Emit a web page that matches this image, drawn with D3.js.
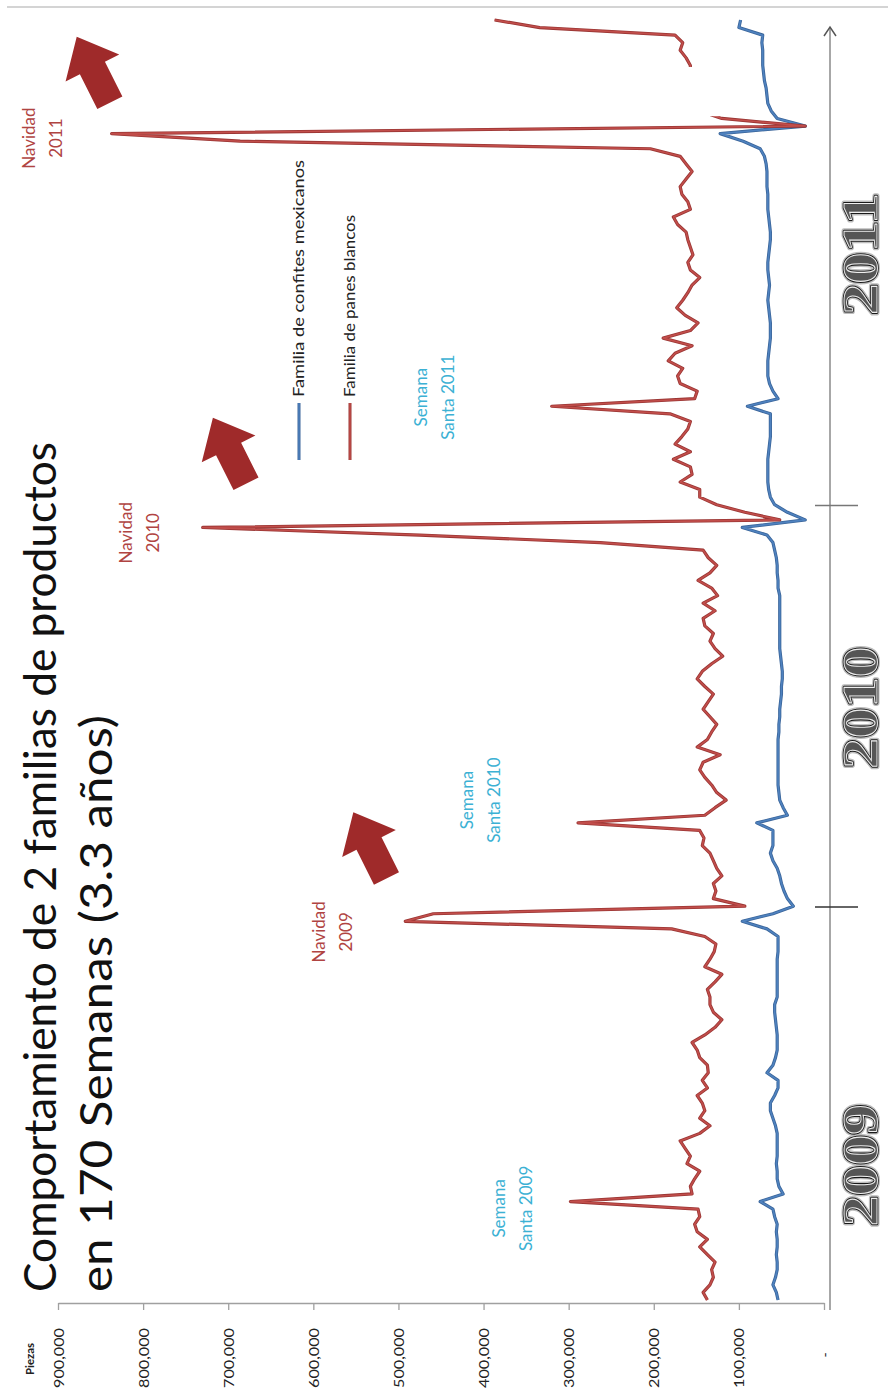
<!DOCTYPE html>
<html>
<head>
<meta charset="utf-8">
<script src="https://cdn.jsdelivr.net/npm/d3@7"></script>
<style>
  html, body { margin: 0; padding: 0; background: #fff; }
  svg { display: block; }
</style>
</head>
<body>
<svg id="chart" width="888" height="1397"></svg>
<script>
// Weekly sales, in thousands of pieces, week 1 (early 2009) to week 170 (late 2011)
const weeks = d3.range(1, 171);

const panesBlancos = [
  137,142,134,130,132,128,137,146,137,149,
  152,146,148,298,155,157,152,146,161,157,
  163,169,146,134,146,140,143,149,137,143,
  136,137,146,149,155,140,128,120,130,134,
  134,137,128,120,140,134,129,127,140,179,
  492,459,93,130,127,130,120,126,130,134,
  143,141,146,289,140,128,115,126,132,140,
  146,142,122,149,137,132,126,134,142,136,
  130,140,149,143,132,119,128,134,130,140,
  142,128,142,125,132,148,134,126,136,142,
  263,475,730,52,93,126,146,146,169,155,
  157,177,157,175,167,160,157,181,320,152,
  149,169,172,166,183,175,155,189,157,148,
  163,173,166,160,155,146,157,160,154,157,
  160,162,172,177,157,160,167,169,162,155,
  162,169,204,686,837,22,120,146,152,155,
  157,160,157,157,162,169,166,175,334,387
];

const confitesMexicanos = [
  54,56,60,57,55,55,56,55,55,56,
  55,58,60,75,48,53,55,55,56,55,
  55,55,55,57,60,63,63,58,54,54,
  67,60,57,55,55,55,56,57,58,58,
  55,55,55,55,55,55,54,54,54,67,
  96,60,36,43,47,50,52,55,60,63,
  60,60,60,79,43,48,52,53,54,54,
  54,54,54,54,54,53,53,52,52,51,
  50,50,49,49,50,51,52,52,52,52,
  52,52,52,52,54,54,55,55,56,58,
  60,67,96,22,43,58,63,65,66,66,
  66,66,65,64,63,63,63,63,90,54,
  60,64,66,66,66,65,64,63,63,63,
  64,65,66,65,64,65,66,66,65,64,
  63,63,64,65,66,66,66,67,67,67,
  68,70,75,95,122,22,55,62,66,67,
  68,70,71,72,72,72,73,72,100,98
];

const seriesNames = ["Familia de confites mexicanos", "Familia de panes blancos"];
const valueTicks = [0, 100, 200, 300, 400, 500, 600, 700, 800, 900];
const valueUnit = "Piezas";

const yearLabels = ["2009", "2010", "2011"];
const yearLabelWeeks = [18.8, 79.2, 139.1];
const yearBreakWeeks = [52.9, 105.9];

const titleLines = ["Comportamiento de 2 familias de productos", "en 170 Semanas (3.3 años)"];

// Seasonal peaks: label lines, anchor week, anchor value (thousands)
const santaLabels = [
  { lines: ["Semana", "Santa 2009"], week: 13.1, value: 375 },
  { lines: ["Semana", "Santa 2010"], week: 67.0, value: 412 },
  { lines: ["Semana", "Santa 2011"], week: 120.2, value: 466 }
];
const navidadLabels = [
  { lines: ["Navidad", "2009"], week: 49.6, value: 586 },
  { lines: ["Navidad", "2010"], week: 102.3, value: 813 },
  { lines: ["Navidad", "2011"], week: 154.4, value: 927 }
];
// Arrow tips (week, value in thousands)
const arrowTips = [
  { week: 65.4, value: 553 },
  { week: 117.5, value: 718 },
  { week: 167.8, value: 878 }
];

const svg = d3.select("#chart");
const W = 888, H = 1397;

// Value axis runs horizontally (right = 0), weeks run bottom to top
const x = d3.scaleLinear().domain([0, 900]).range([824, 58]);
const y = d3.scaleLinear().domain([1, 170]).range([1300, 20]);
const axisY = 1303;

const RED = "#c24e4b", RED_EDGE = "#9a3634";
const BLUE = "#4f82bf", BLUE_EDGE = "#3a659a";
const SANTA = "#3cb1d4", NAVIDAD = "#b04442";
const SANS = "Lato, 'Open Sans', sans-serif";

// frame edge at the top
svg.append("line").attr("x1", 7).attr("x2", W).attr("y1", 7).attr("y2", 7)
  .attr("stroke", "#d4d4d4").attr("stroke-width", 2);

// helper: rotated text reading bottom to top
function vtext(g, cx, cy, str, opts) {
  const t = g.append("text")
    .attr("transform", `translate(${cx},${cy}) rotate(-90)`)
    .attr("text-anchor", opts.anchor || "middle")
    .attr("font-family", opts.family || SANS)
    .attr("font-size", opts.size)
    .attr("font-weight", opts.weight || "normal")
    .attr("fill", opts.fill || "#111")
    .text(str);
  if (opts.length) t.attr("textLength", opts.length).attr("lengthAdjust", "spacingAndGlyphs");
  return t;
}

// ---- value axis ----
const axisG = svg.append("g").attr("transform", `translate(0,${axisY})`)
  .call(d3.axisBottom(x).tickValues(valueTicks).tickSize(7).tickSizeOuter(0)
    .tickFormat(v => v === 0 ? "-" : d3.format(",")(v * 1000)));
axisG.select(".domain").attr("stroke", "#a0a0a0").attr("stroke-width", 1.5);
axisG.selectAll(".tick line").attr("stroke", "#a0a0a0").attr("stroke-width", 1.3);
axisG.selectAll(".tick text")
  .attr("font-family", SANS).attr("font-size", 14).attr("fill", "#222")
  .attr("transform", "rotate(-90)")
  .attr("y", 0).attr("dy", "0.36em")
  .attr("x", d => d === 0 ? -52 : -25)
  .attr("text-anchor", d => d === 0 ? "middle" : "end")
  .attr("textLength", d => d === 0 ? null : 60)
  .attr("lengthAdjust", "spacingAndGlyphs");

vtext(svg, 34, axisY + 56, valueUnit, { size: 11, weight: "bold", anchor: "middle", fill: "#222", length: 32 });

// ---- week axis with arrow ----
const ax = x(0) + 6;
svg.append("line").attr("x1", ax).attr("x2", ax).attr("y1", axisY + 7).attr("y2", y(170) + 7)
  .attr("stroke", "#8a8a8a").attr("stroke-width", 1.5);
svg.append("path")
  .attr("d", `M${ax - 6},${y(170) + 16} L${ax},${y(170) + 7} L${ax + 6},${y(170) + 16}`)
  .attr("fill", "none").attr("stroke", "#555").attr("stroke-width", 1.5);

svg.selectAll(".yearBreak").data(yearBreakWeeks).join("line")
  .attr("class", "yearBreak")
  .attr("x1", x(0) - 9).attr("x2", x(0) + 34)
  .attr("y1", d => y(d)).attr("y2", d => y(d))
  .attr("stroke", (d, i) => i === 0 ? "#333" : "#777").attr("stroke-width", 1.5);

// ---- year labels (engraved look) ----
const yearG = svg.append("g");
yearLabels.forEach((lab, i) => {
  const cy = y(yearLabelWeeks[i]);
  const base = { size: 50, family: "'Liberation Serif', 'DejaVu Serif', serif", weight: "bold", anchor: "middle", length: 122 };
  vtext(yearG, 877, cy, lab, Object.assign({}, base, { fill: "none" }))
    .attr("stroke", "#bdbdbd").attr("stroke-width", 5).attr("stroke-linejoin", "round");
  vtext(yearG, 877, cy, lab, Object.assign({}, base, { fill: "none" }))
    .attr("stroke", "#1a1a1a").attr("stroke-width", 2.6).attr("stroke-linejoin", "round");
  vtext(yearG, 877, cy, lab, Object.assign({}, base, { fill: "#555" }))
    .attr("stroke", "#eeeeee").attr("stroke-width", 0.9);
});

// ---- series lines ----
const line = d3.line().x(d => x(d.v)).y(d => y(d.w));
const redData = weeks.map((w, i) => ({ w, v: panesBlancos[i] }));
const blueData = weeks.map((w, i) => ({ w, v: confitesMexicanos[i] }));

function drawSeries(data, edge, fill) {
  svg.append("path").datum(data).attr("d", line)
    .attr("fill", "none").attr("stroke", edge).attr("stroke-width", 3.2)
    .attr("stroke-linejoin", "round");
  svg.append("path").datum(data).attr("d", line)
    .attr("fill", "none").attr("stroke", fill).attr("stroke-width", 1.6)
    .attr("stroke-linejoin", "round");
}
drawSeries(blueData, BLUE_EDGE, BLUE);
drawSeries(redData, RED_EDGE, RED);

// empty text box lying over the last weeks
svg.append("rect")
  .attr("x", x(310)).attr("width", x(110) - x(310))
  .attr("y", y(163.8)).attr("height", y(157.3) - y(163.8))
  .attr("fill", "#fff");

// ---- legend ----
const legG = svg.append("g");
[{ name: seriesNames[0], color: BLUE, edge: BLUE_EDGE, cx: 299 }, { name: seriesNames[1], color: RED, edge: RED_EDGE, cx: 350 }]
  .forEach((d, i) => {
    legG.append("line").attr("x1", d.cx).attr("x2", d.cx).attr("y1", 460).attr("y2", 403)
      .attr("stroke", d.edge).attr("stroke-width", 3);
    legG.append("line").attr("x1", d.cx).attr("x2", d.cx).attr("y1", 460).attr("y2", 403)
      .attr("stroke", d.color).attr("stroke-width", 1.4);
    vtext(legG, d.cx + 5, 397, d.name, { size: 16, anchor: "start", fill: "#222", length: i === 0 ? 237 : 182 });
  });

// ---- title ----
vtext(svg, 56, 1292, titleLines[0], { size: 44, anchor: "start", fill: "#111", length: 850 });
vtext(svg, 112, 1292, titleLines[1], { size: 44, anchor: "start", fill: "#111", length: 577 });

// ---- annotations ----
function twoLine(d, color) {
  const cx = x(d.value), cy = y(d.week);
  vtext(svg, cx, cy, d.lines[0], { size: 17, fill: color });
  vtext(svg, cx + 27, cy, d.lines[1], { size: 17, fill: color });
}
santaLabels.forEach(d => twoLine(d, SANTA));
navidadLabels.forEach(d => twoLine(d, NAVIDAD));

// block arrows pointing to the year-end jumps
const arrowShape = "M0,0 L30,35 L14,35 L14,74 L-14,74 L-14,35 L-30,35 Z";
svg.selectAll(".arrow").data(arrowTips).join("path")
  .attr("class", "arrow")
  .attr("d", arrowShape)
  .attr("transform", d => `translate(${x(d.value)},${y(d.week)}) rotate(-26.6)`)
  .attr("fill", "#9f2a2a");
</script>
</body>
</html>
